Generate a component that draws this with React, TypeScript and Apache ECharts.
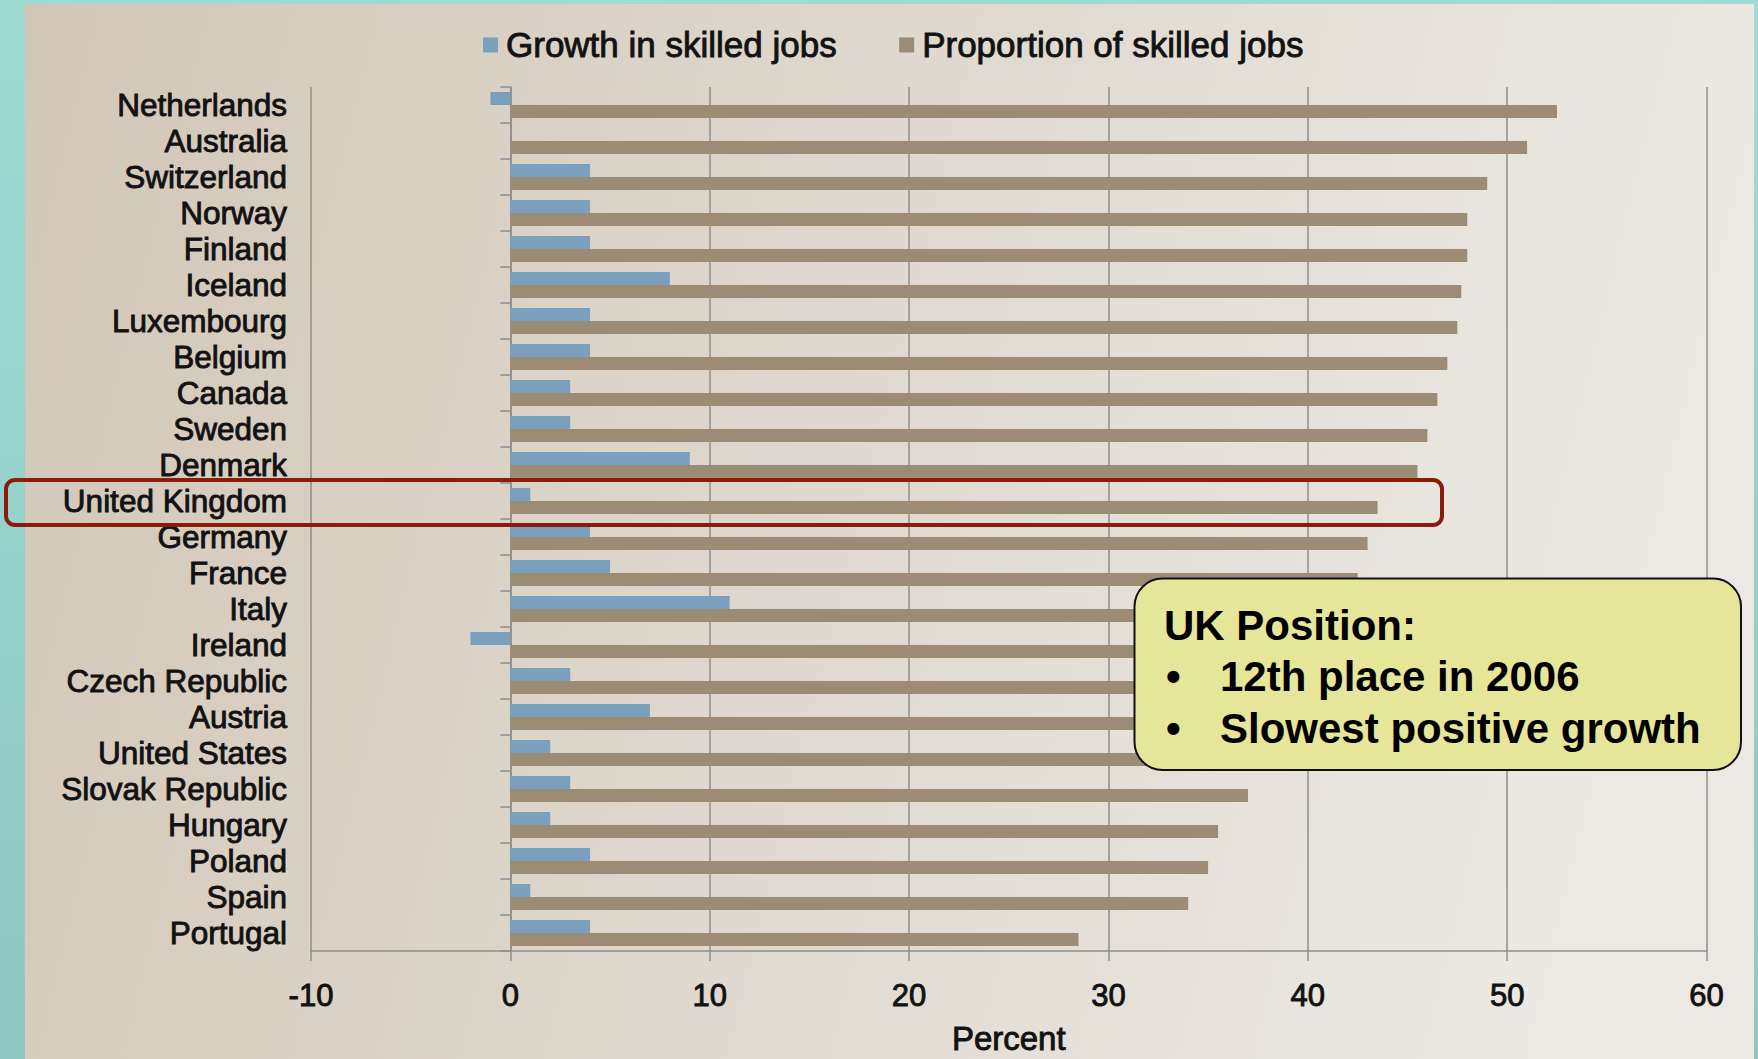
import React, { useEffect, useRef } from "react";
import * as echarts from "echarts";

const categories = [
  "Netherlands",
  "Australia",
  "Switzerland",
  "Norway",
  "Finland",
  "Iceland",
  "Luxembourg",
  "Belgium",
  "Canada",
  "Sweden",
  "Denmark",
  "United Kingdom",
  "Germany",
  "France",
  "Italy",
  "Ireland",
  "Czech Republic",
  "Austria",
  "United States",
  "Slovak Republic",
  "Hungary",
  "Poland",
  "Spain",
  "Portugal",
];

const growthInSkilledJobs = [
  -1, 0, 4, 4, 4, 8, 4, 4, 3, 3, 9, 1, 4, 5, 11, -2, 3, 7, 2, 3, 2, 4, 1, 4,
];

const proportionOfSkilledJobs = [
  52.5, 51, 49, 48, 48, 47.7, 47.5, 47, 46.5, 46, 45.5, 43.5, 43, 42.5, 41.5,
  40.5, 39.5, 38.5, 38, 37, 35.5, 35, 34, 28.5,
];

const xTickValues = [-10, 0, 10, 20, 30, 40, 50, 60];
const seriesNames = ["Growth in skilled jobs", "Proportion of skilled jobs"];
const axisName = "Percent";
const calloutTitle = "UK Position:";
const calloutBullets = ["12th place in 2006", "Slowest positive growth"];

const FONT = '"Liberation Sans", Arial, Helvetica, sans-serif';
const GRID_COLOR = "#8e8e8e";
const TEXT_COLOR = "#121212";

export default function App() {
  const ref = useRef<HTMLDivElement>(null);

  useEffect(() => {
    if (!ref.current) return;
    const chart = echarts.init(ref.current, null, {
      renderer: "svg",
      width: 1758,
      height: 1059,
    });

    const lineStyle = { color: GRID_COLOR, width: 1.5 };
    const heavy = { textBorderColor: TEXT_COLOR, textBorderWidth: 0.9 };

    const calloutTexts: any[] = [
      {
        type: "text",
        x: 1164,
        y: 625,
        z: 102,
        style: {
          text: calloutTitle,
          font: `bold 42px ${FONT}`,
          fill: "#000",
          verticalAlign: "middle",
        },
      },
    ];
    calloutBullets.forEach((t, i) => {
      calloutTexts.push({
        type: "text",
        x: 1166,
        y: 676 + i * 52,
        z: 102,
        style: {
          text: "\u2022",
          font: `bold 42px ${FONT}`,
          fill: "#000",
          verticalAlign: "middle",
        },
      });
      calloutTexts.push({
        type: "text",
        x: 1220,
        y: 676 + i * 52,
        z: 102,
        style: {
          text: t,
          font: `bold 42px ${FONT}`,
          fill: "#000",
          verticalAlign: "middle",
        },
      });
    });

    chart.setOption({
      animation: false,
      textStyle: { fontFamily: FONT },
      legend: {
        data: seriesNames,
        left: 478,
        top: 22,
        icon: "rect",
        itemWidth: 15,
        itemHeight: 15,
        itemGap: 62,
        textStyle: {
          fontSize: 35,
          color: TEXT_COLOR,
          fontFamily: FONT,
          padding: [0, 0, 0, 3],
          ...heavy,
        },
      },
      grid: {
        left: 311,
        right: 51.5,
        top: 87,
        bottom: 108,
        containLabel: false,
        outerBoundsMode: "none",
      },
      xAxis: {
        type: "value",
        min: xTickValues[0],
        max: xTickValues[xTickValues.length - 1],
        interval: 10,
        axisLine: { show: true, onZero: false, lineStyle },
        axisTick: { show: true, length: 10, lineStyle },
        splitLine: { show: true, lineStyle },
        axisLabel: {
          fontSize: 31,
          color: TEXT_COLOR,
          margin: 29,
          fontFamily: FONT,
          ...heavy,
        },
        name: axisName,
        nameLocation: "middle",
        nameGap: 71,
        nameTextStyle: {
          fontSize: 33,
          color: TEXT_COLOR,
          fontFamily: FONT,
          ...heavy,
        },
      },
      yAxis: {
        type: "category",
        data: categories,
        inverse: true,
        axisLine: { show: true, onZero: true, lineStyle },
        axisTick: { show: true, length: 10, inside: false, lineStyle },
        splitLine: { show: false },
        axisLabel: {
          interval: 0,
          fontSize: 31.5,
          color: TEXT_COLOR,
          margin: 24,
          fontFamily: FONT,
          ...heavy,
        },
      },
      series: [
        {
          type: "bar",
          name: seriesNames[0],
          data: growthInSkilledJobs,
          barWidth: 13,
          barGap: "0%",
          itemStyle: { color: "#7aa0bd" },
        },
        {
          type: "bar",
          name: seriesNames[1],
          data: proportionOfSkilledJobs,
          barWidth: 13,
          barGap: "0%",
          itemStyle: { color: "#9c8c75" },
        },
      ],
      graphic: {
        elements: [
          {
            type: "rect",
            z: -100,
            silent: true,
            shape: { x: 25, y: 4, width: 1729, height: 1060 },
            style: {
              fill: new echarts.graphic.LinearGradient(0, 0, 1, 0.15, [
                { offset: 0, color: "#d2c7b7" },
                { offset: 0.5, color: "#ded8ce" },
                { offset: 1, color: "#ece9e4" },
              ]),
            },
          },
          {
            type: "rect",
            z: 100,
            silent: true,
            shape: { x: 6, y: 480, width: 1436, height: 45, r: 9 },
            style: { fill: "none", stroke: "#8b1c0c", lineWidth: 4 },
          },
          {
            type: "rect",
            z: 101,
            silent: true,
            shape: { x: 1134.5, y: 578.5, width: 606.5, height: 191.5, r: 28 },
            style: { fill: "#e6e69b", stroke: "#111", lineWidth: 2 },
          },
          ...calloutTexts,
        ],
      },
    });

    return () => chart.dispose();
  }, []);

  return (
    <div
      ref={ref}
      style={{
        position: "fixed",
        left: 0,
        top: 0,
        width: 1758,
        height: 1059,
        background: "linear-gradient(#9fdad3, #8fc8c3)",
      }}
    />
  );
}
